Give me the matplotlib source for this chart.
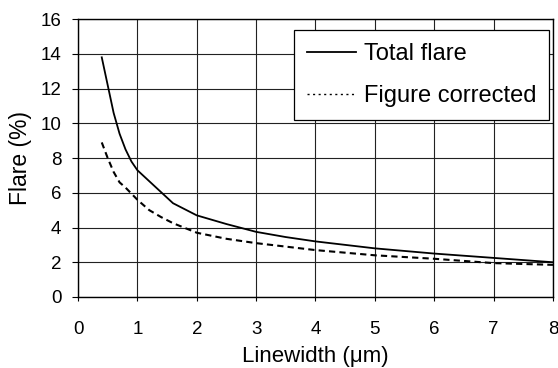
import matplotlib
matplotlib.use('Agg')
import matplotlib.pyplot as plt

plt.rcParams['font.family'] = ['Liberation Sans', 'DejaVu Sans']

# Total flare curve
total_x = [0.4, 0.5, 0.6, 0.7, 0.8, 0.9, 1.0, 1.6, 2.0, 2.5, 3.0, 3.5, 4.0, 5.0, 6.0, 7.0, 8.0]
total_y = [13.8, 12.2, 10.6, 9.4, 8.5, 7.8, 7.3, 5.4, 4.7, 4.2, 3.75, 3.45, 3.2, 2.8, 2.5, 2.25, 2.0]

# Figure corrected curve
corr_x = [0.4, 0.5, 0.6, 0.7, 0.8, 1.0, 1.2, 1.4, 1.6, 2.0, 2.5, 3.0, 3.5, 4.0, 5.0, 6.0, 7.0, 8.0]
corr_y = [8.9, 8.0, 7.2, 6.6, 6.3, 5.6, 5.0, 4.6, 4.25, 3.7, 3.35, 3.1, 2.9, 2.7, 2.4, 2.2, 1.95, 1.85]

x_ticks = [0, 1, 2, 3, 4, 5, 6, 7, 8]
y_ticks = [0, 2, 4, 6, 8, 10, 12, 14, 16]

fig = plt.figure(figsize=(5.58, 3.68), dpi=100)
ax = fig.add_axes([0.1398, 0.193, 0.8512, 0.755])

ax.plot(total_x, total_y, '-', color='black', lw=1.3, label='Total flare')
ax.plot(corr_x, corr_y, color='black', lw=1.5, dashes=(3, 2))

ax.set_xlim(0, 8)
ax.set_ylim(0, 16)
ax.set_xticks(x_ticks)
ax.set_yticks(y_ticks)
ax.grid(True, color='#222222', lw=0.8)
ax.set_axisbelow(True)
for s in ax.spines.values():
    s.set_color('black')
    s.set_linewidth(1.0)

ax.tick_params(axis='y', labelsize=13.5, length=4, pad=8, width=0.8)
ax.tick_params(axis='x', labelsize=13.5, length=3, pad=14, width=0.8)

ax.set_xlabel('Linewidth (\u03bcm)', fontsize=16, labelpad=6)
ax.set_ylabel('Flare (%)', fontsize=16.5, labelpad=6)

# legend proxy for the dotted look
ax.plot([], [], color='black', lw=1.0, dashes=(1.5, 2.5), label='Figure corrected')
leg = ax.legend(loc='upper right', fontsize=17, handlelength=2.1, handletextpad=0.3,
                labelspacing=0.85, borderpad=0.55, borderaxespad=0, fancybox=False,
                framealpha=1, edgecolor='black', bbox_to_anchor=(0.9916, 0.96))
leg.get_frame().set_linewidth(0.9)

fig.savefig('out.png', dpi=100)
